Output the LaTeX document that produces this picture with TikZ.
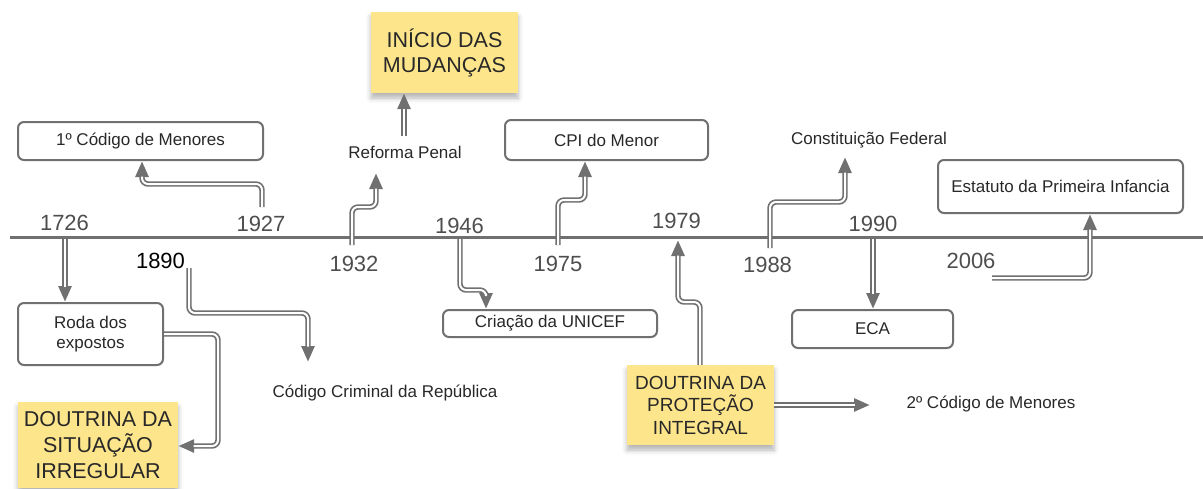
\documentclass[tikz,border=0pt]{standalone}
\usepackage{fontspec}
\setmainfont{Liberation Sans}
\usetikzlibrary{arrows.meta,shadows.blur}
\definecolor{ylw}{RGB}{253,229,140}
\definecolor{lnc}{RGB}{112,112,112}
\definecolor{txc}{RGB}{40,40,40}
\definecolor{yrc}{RGB}{78,78,78}
\tikzset{
 box/.style={draw=lnc, line width=2pt, rounded corners=6pt, fill=white, text=txc, font=\fontsize{17}{20}\selectfont, align=center, inner sep=0pt},
 note/.style={fill=ylw, text=txc, align=center, inner sep=0pt, blur shadow={shadow xshift=0pt, shadow yshift=-5pt, shadow blur radius=5pt, shadow opacity=30}},
 lbl/.style={text=txc, font=\fontsize{17}{20}\selectfont, inner sep=0pt},
 yr/.style={text=yrc, font=\fontsize{22}{24}\selectfont, inner sep=0pt},
 connout/.style={draw=lnc, line width=5.4pt, rounded corners=6pt, -{Triangle[length=16pt,width=12.5pt]}},
 connin/.style={draw=white, line width=2pt, rounded corners=6pt, shorten >=15.5pt},
}
\newcommand\cnn[1]{\draw[connout] #1; \draw[connin] #1;}
\begin{document}
\begin{tikzpicture}[x=1pt,y=-1pt]
\useasboundingbox (0,0) rectangle (1203,488);
% timeline
\coordinate (tl0) at (10,237);
\coordinate (tl1) at (1203,237);
\draw[lnc, line width=3pt] (tl0) -- (tl1);
% years
\node[yr] (y1726) at (64.5,222.5) {1726};
\node[yr] (y1927) at (261,224) {1927};
\node[yr, text=black] (y1890) at (160.5,260.5) {1890};
\node[yr] (y1932) at (354,263.5) {1932};
\node[yr] (y1946) at (459.5,225.5) {1946};
\node[yr] (y1975) at (558,263.5) {1975};
\node[yr] (y1979) at (676.5,220.5) {1979};
\node[yr] (y1988) at (767.5,265) {1988};
\node[yr] (y1990) at (873,224) {1990};
\node[yr] (y2006) at (971,260.5) {2006};
% boxes
\node[box, minimum width=245pt, minimum height=38pt] (m1) at (140.5,141) {1º Código de Menores};
\node[box, minimum width=145pt, minimum height=62pt] (roda) at (90.5,334) {Roda dos\\expostos};
\node[note, minimum width=160pt, minimum height=86pt, font=\fontsize{21.5}{26}\selectfont] (dsi) at (98,445) {DOUTRINA DA\\SITUAÇÃO\\IRREGULAR};
\node[note, minimum width=147pt, minimum height=81pt, font=\fontsize{21.5}{25}\selectfont] (inicio) at (444.5,52.5) {INÍCIO DAS\\MUDANÇAS};
\node[box, minimum width=214pt, minimum height=27pt] (unicef) at (550,323.5) {Criação da UNICEF};
\node[box, minimum width=203pt, minimum height=40pt] (cpi) at (606.5,140) {CPI do Menor};
\node[note, minimum width=147pt, minimum height=80pt, font=\fontsize{19}{22.5}\selectfont] (dpi) at (700.5,405) {DOUTRINA DA\\PROTEÇÃO\\INTEGRAL};
\node[box, minimum width=161pt, minimum height=38pt] (eca) at (872.5,329) {ECA};
\node[box, minimum width=245pt, minimum height=53pt] (epi) at (1060.5,186.5) {Estatuto da Primeira Infancia};
% plain labels
\node[lbl] (codcrim) at (385,393) {Código Criminal da República};
\node[lbl] (reforma) at (405,152) {Reforma Penal};
\node[lbl] (const) at (869,140) {Constituição Federal};
\node[lbl] (cod2) at (991,404) {2º Código de Menores};
% connector ends
\coordinate (s1927) at (262,207);
\coordinate (s1726) at (65,239);
\coordinate (s1890) at (189,268);
\coordinate (e1890) at (308,362);
\coordinate (s1932) at (352,245);
\coordinate (e1932) at (376,173);
\coordinate (sref) at (404,136);
\coordinate (s1946) at (460,239);
\coordinate (s1975) at (558,245);
\coordinate (e1979) at (678,240);
\coordinate (e2cod) at (870,405);
\coordinate (s1988) at (770,248);
\coordinate (e1988) at (845,157);
\coordinate (s1990) at (873,239);
\coordinate (s2006) at (992,278);
% connectors
\cnn{(s1927) -- (262,184) -- (142,184) -- (142,0 |- m1.south)}
\cnn{(s1726) -- (65,0 |- roda.north)}
\cnn{(roda.east) -- (218,0 |- roda.east) -- (218,446) -- (dsi.east |- 0,446)}
\cnn{(s1890) -- (189,313) -- (308,313) -- (e1890)}
\cnn{(s1932) -- (352,207) -- (376,207) -- (e1932)}
\cnn{(sref) -- (404,0 |- inicio.south)}
\cnn{(s1946) -- (460,290) -- (486,290) -- (486,0 |- unicef.north)}
\cnn{(s1975) -- (558,200) -- (585,200) -- (585,0 |- cpi.south)}
\cnn{(700,0 |- dpi.north) -- (700,302) -- (678,302) -- (e1979)}
\cnn{(dpi.east) -- (e2cod)}
\cnn{(s1988) -- (770,202) -- (845,202) -- (e1988)}
\cnn{(s1990) -- (873,0 |- eca.north)}
\cnn{(s2006) -- (1090,278) -- (1090,0 |- epi.south)}
\end{tikzpicture}
\end{document}
